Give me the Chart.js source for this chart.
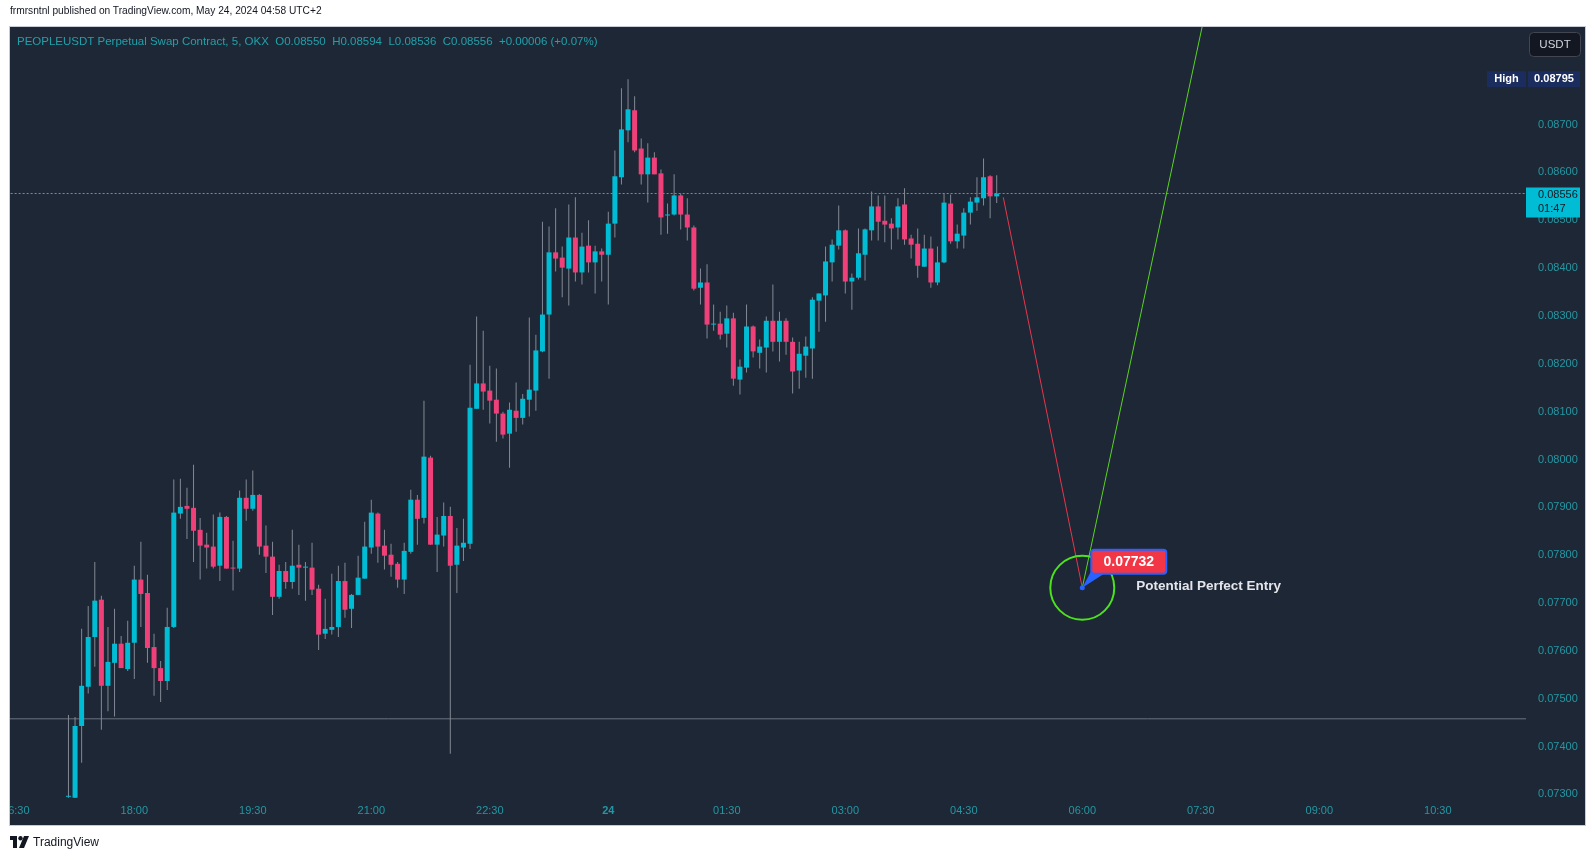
<!DOCTYPE html>
<html>
<head>
<meta charset="utf-8">
<title>PEOPLEUSDT 5m</title>
<script src="https://cdn.jsdelivr.net/npm/chart.js@4.4.1/dist/chart.umd.min.js"></script>
<style>
  html, body { margin: 0; padding: 0; background: #ffffff; }
  #wrap { position: relative; width: 1595px; height: 861px; overflow: hidden; }
  #chart { position: absolute; left: 0; top: 0; }
  .pub { position: absolute; left: 10px; top: 5px; font: 10.2px 'Liberation Sans', sans-serif; color: #131722; }
  .foot { position: absolute; left: 10px; top: 835px; font: 12px 'Liberation Sans', sans-serif; color: #131722; display: flex; align-items: center; gap: 4px; }
</style>
</head>
<body>
<div id="wrap">
  <canvas id="chart" width="1595" height="861"></canvas>
  <div class="pub">frmrsntnl published on TradingView.com, May 24, 2024 04:58 UTC+2</div>
  <div class="foot">
    <svg width="19" height="12" viewBox="0 0 19 12"><rect x="0" y="0" width="7" height="4" fill="#131722"/><rect x="3" y="0" width="4" height="12" fill="#131722"/><circle cx="10.5" cy="2.2" r="2.2" fill="#131722"/><polygon points="14,0 19,0 14,12 9,12" fill="#131722"/></svg>
    <span>TradingView</span>
  </div>
</div>
<script>
// 5 minute candles, first bar 17:10, last bar 04:55 (minutes counted from 18:00)
const opens = [
  0.07295,0.07293,0.07443,0.07525,0.07629,0.07707,0.07527,0.07575,0.07615,0.07562,
  0.07617,0.07749,0.07721,0.07608,0.07564,0.07537,0.07650,0.07887,0.07903,0.07899,
  0.07853,0.07822,0.07818,0.07778,0.07880,0.07774,0.07772,0.07920,0.07897,0.07926,
  0.07820,0.07797,0.07713,0.07767,0.07744,0.07780,0.07774,0.07774,0.07730,0.07636,
  0.07644,0.07650,0.07746,0.07688,0.07717,0.07751,0.07816,0.07887,0.07820,0.07801,
  0.07782,0.07749,0.07807,0.07916,0.07878,0.08004,0.07822,0.07841,0.07882,0.07780,
  0.07816,0.07824,0.08106,0.08159,0.08144,0.08125,0.08096,0.08054,0.08102,0.08087,
  0.08125,0.08144,0.08226,0.08303,0.08433,0.08422,0.08399,0.08464,0.08391,0.08447,
  0.08412,0.08435,0.08428,0.08493,0.08590,0.08688,0.08730,0.08650,0.08596,0.08631,
  0.08598,0.08510,0.08512,0.08552,0.08512,0.08485,0.08359,0.08370,0.08282,0.08284,
  0.08263,0.08295,0.08167,0.08192,0.08278,0.08223,0.08234,0.08290,0.08246,0.08290,
  0.08246,0.08186,0.08217,0.08232,0.08332,0.08343,0.08412,0.08447,0.08479,0.08372,
  0.08380,0.08428,0.08479,0.08529,0.08499,0.08493,0.08485,0.08533,0.08462,0.08451,
  0.08403,0.08441,0.08370,0.08412,0.08535,0.08456,0.08468,0.08516,0.08537,0.08546,
  0.08592,0.08550
];
const highs = [
  0.07466,0.07462,0.07646,0.07694,0.07786,0.07715,0.07650,0.07688,0.07631,0.07663,
  0.07778,0.07828,0.07759,0.07636,0.07579,0.07690,0.07958,0.07960,0.07941,0.07989,
  0.07878,0.07847,0.07885,0.07889,0.07882,0.07830,0.07935,0.07958,0.07977,0.07928,
  0.07862,0.07828,0.07780,0.07786,0.07853,0.07822,0.07786,0.07826,0.07738,0.07709,
  0.07761,0.07778,0.07784,0.07719,0.07799,0.07870,0.07916,0.07889,0.07853,0.07824,
  0.07786,0.07826,0.07937,0.07926,0.08123,0.08008,0.07880,0.07910,0.07901,0.07857,
  0.07876,0.08198,0.08299,0.08269,0.08196,0.08190,0.08100,0.08119,0.08161,0.08137,
  0.08297,0.08261,0.08497,0.08487,0.08525,0.08445,0.08533,0.08548,0.08474,0.08500,
  0.08447,0.08441,0.08518,0.08646,0.08776,0.08795,0.08759,0.08671,0.08661,0.08642,
  0.08606,0.08535,0.08596,0.08556,0.08546,0.08489,0.08399,0.08408,0.08324,0.08309,
  0.08322,0.08307,0.08209,0.08324,0.08280,0.08251,0.08299,0.08366,0.08309,0.08295,
  0.08255,0.08246,0.08257,0.08339,0.08347,0.08445,0.08460,0.08531,0.08481,0.08389,
  0.08483,0.08483,0.08560,0.08552,0.08552,0.08504,0.08546,0.08567,0.08470,0.08483,
  0.08470,0.08466,0.08445,0.08556,0.08554,0.08491,0.08525,0.08548,0.08590,0.08629,
  0.08594,0.08594
];
const lows = [
  0.07293,0.07292,0.07366,0.07511,0.07567,0.07435,0.07474,0.07463,0.07564,0.07558,
  0.07541,0.07650,0.07575,0.07506,0.07493,0.07518,0.07648,0.07876,0.07834,0.07786,
  0.07749,0.07772,0.07772,0.07746,0.07772,0.07726,0.07765,0.07872,0.07893,0.07801,
  0.07763,0.07675,0.07709,0.07730,0.07730,0.07717,0.07705,0.07717,0.07602,0.07625,
  0.07634,0.07629,0.07669,0.07648,0.07717,0.07751,0.07803,0.07784,0.07770,0.07755,
  0.07732,0.07719,0.07803,0.07822,0.07866,0.07822,0.07765,0.07818,0.07385,0.07721,
  0.07788,0.07813,0.08106,0.08104,0.08075,0.08037,0.08044,0.07983,0.08058,0.08073,
  0.08090,0.08102,0.08224,0.08169,0.08393,0.08339,0.08322,0.08372,0.08366,0.08391,
  0.08347,0.08372,0.08324,0.08464,0.08575,0.08663,0.08642,0.08575,0.08537,0.08596,
  0.08470,0.08472,0.08510,0.08481,0.08458,0.08353,0.08324,0.08253,0.08269,0.08251,
  0.08234,0.08154,0.08136,0.08182,0.08213,0.08190,0.08182,0.08226,0.08205,0.08219,
  0.08138,0.08148,0.08171,0.08169,0.08267,0.08288,0.08372,0.08439,0.08347,0.08313,
  0.08376,0.08374,0.08458,0.08458,0.08454,0.08439,0.08460,0.08449,0.08420,0.08380,
  0.08403,0.08359,0.08364,0.08410,0.08451,0.08441,0.08441,0.08491,0.08520,0.08531,
  0.08504,0.08536
];
const closes = [
  0.07296,0.07443,0.07527,0.07629,0.07705,0.07527,0.07577,0.07615,0.07564,0.07617,
  0.07749,0.07719,0.07606,0.07564,0.07537,0.07650,0.07889,0.07901,0.07897,0.07851,
  0.07820,0.07816,0.07776,0.07880,0.07772,0.07772,0.07920,0.07897,0.07926,0.07818,
  0.07797,0.07713,0.07767,0.07744,0.07778,0.07774,0.07776,0.07728,0.07634,0.07646,
  0.07650,0.07746,0.07686,0.07717,0.07753,0.07818,0.07889,0.07818,0.07799,0.07780,
  0.07749,0.07809,0.07916,0.07876,0.08006,0.07822,0.07843,0.07882,0.07778,0.07820,
  0.07826,0.08108,0.08159,0.08142,0.08123,0.08096,0.08052,0.08104,0.08087,0.08127,
  0.08146,0.08228,0.08303,0.08433,0.08420,0.08401,0.08464,0.08391,0.08445,0.08412,
  0.08435,0.08428,0.08493,0.08592,0.08690,0.08732,0.08646,0.08596,0.08631,0.08596,
  0.08506,0.08512,0.08552,0.08512,0.08485,0.08357,0.08370,0.08282,0.08284,0.08261,
  0.08295,0.08169,0.08194,0.08278,0.08226,0.08236,0.08290,0.08246,0.08290,0.08246,
  0.08184,0.08221,0.08236,0.08334,0.08347,0.08414,0.08449,0.08479,0.08372,0.08380,
  0.08431,0.08481,0.08529,0.08497,0.08491,0.08483,0.08529,0.08460,0.08449,0.08405,
  0.08441,0.08370,0.08412,0.08537,0.08456,0.08472,0.08516,0.08539,0.08548,0.08590,
  0.08550,0.08556
];
const firstBarMinute = -50;   // 17:10
const barMinutes = 5;

const xTickValues = [-90, 0, 90, 180, 270, 360, 450, 540, 630, 720, 810, 900, 990];
const xTickLabels = ['16:30','18:00','19:30','21:00','22:30','24','01:30','03:00','04:30','06:00','07:30','09:00','10:30'];
const yTickValues = [0.073,0.074,0.075,0.076,0.077,0.078,0.079,0.080,0.081,0.082,0.083,0.084,0.085,0.086,0.087];

const lastPrice = 0.08556;
const dayHigh = 0.08795;
const levelPrice = 0.07458;
const downPath = [{x: 660, y: 0.08548}, {x: 720, y: 0.07732}];
const upPath = [{x: 720, y: 0.07732}, {x: 811, y: 0.08904}];
const entry = {x: 720, y: 0.07732, label: '0.07732', text: 'Potential Perfect Entry'};
const headerText = 'PEOPLEUSDT Perpetual Swap Contract, 5, OKX  O0.08550  H0.08594  L0.08536  C0.08556  +0.00006 (+0.07%)';

const TEAL = '#00bcd4', RED = '#ef4079', WICK = '#838995', AXIS_TEXT = '#2497a3';

const times = opens.map((_, i) => firstBarMinute + i * barMinutes);
const wickData = times.map((t, i) => ({x: t, y: [lows[i], highs[i]]}));
const bodyData = times.map((t, i) => ({x: t, y: [Math.min(opens[i], closes[i]), Math.max(opens[i], closes[i])]}));
const bodyColors = times.map((_, i) => closes[i] >= opens[i] ? TEAL : RED);

Chart.defaults.font.family = "'Liberation Sans', sans-serif";

const overlay = {
  id: 'overlay',
  beforeDraw(chart) {
    const c = chart.ctx;
    c.save();
    c.fillStyle = '#1e2735';
    c.fillRect(10, 27, 1575, 798);
    c.strokeStyle = '#c9ccd2';
    c.lineWidth = 1;
    c.strokeRect(9.5, 26.5, 1576, 799);
    c.restore();
  },
  afterDraw(chart) {
    const c = chart.ctx;
    const xs = chart.scales.x, ys = chart.scales.y;
    c.save();
    c.beginPath();
    c.rect(10, 27, 1575, 798);
    c.clip();

    // time axis labels
    c.textAlign = 'center';
    c.textBaseline = 'middle';
    c.fillStyle = AXIS_TEXT;
    xTickValues.forEach((v, i) => {
      c.font = (xTickLabels[i] === '24' ? 'bold ' : '') + "11px 'Liberation Sans', sans-serif";
      c.fillText(xTickLabels[i], xs.getPixelForValue(v), 811);
    });

    // legend line
    c.textAlign = 'left';
    c.font = "11.5px 'Liberation Sans', sans-serif";
    c.fillStyle = '#22a0aa';
    c.fillText(headerText, 17, 42);

    // entry callout
    const px = xs.getPixelForValue(entry.x), py = ys.getPixelForValue(entry.y);
    c.fillStyle = '#2962ff';
    c.beginPath();
    c.moveTo(px, py);
    c.lineTo(px + 9, py - 17);
    c.lineTo(px + 21, py - 13.5);
    c.closePath();
    c.fill();
    c.beginPath();
    c.arc(px, py, 2.5, 0, Math.PI * 2);
    c.fill();
    c.beginPath();
    c.roundRect(px + 9, py - 38, 75, 24, 3);
    c.fillStyle = '#f23645';
    c.fill();
    c.lineWidth = 2;
    c.strokeStyle = '#2962ff';
    c.stroke();
    c.fillStyle = '#ffffff';
    c.textAlign = 'center';
    c.font = "bold 14px 'Liberation Sans', sans-serif";
    c.fillText(entry.label, px + 46.5, py - 25.5);
    c.textAlign = 'left';
    c.font = "600 13.5px 'Liberation Sans', sans-serif";
    c.fillStyle = '#e3e6eb';
    c.fillText(entry.text, px + 54, py - 1);

    // price axis: day high
    const hy = ys.getPixelForValue(dayHigh);
    c.fillStyle = '#1a2d5e';
    c.fillRect(1487, hy - 8, 39, 16);
    c.fillRect(1528, hy - 8, 52, 16);
    c.fillStyle = '#ffffff';
    c.font = "bold 11px 'Liberation Sans', sans-serif";
    c.textAlign = 'center';
    c.fillText('High', 1506.5, hy);
    c.fillText(dayHigh.toFixed(5), 1554, hy);

    // price axis: last price tag with countdown
    const ly = ys.getPixelForValue(lastPrice);
    c.fillStyle = TEAL;
    c.fillRect(1526, ly - 6, 54, 30);
    c.fillStyle = '#131722';
    c.font = "11px 'Liberation Sans', sans-serif";
    c.textAlign = 'left';
    c.fillText(lastPrice.toFixed(5), 1538, ly + 1.5);
    c.fillText('01:47', 1538, ly + 15.5);

    // currency button
    c.beginPath();
    c.roundRect(1529.5, 32.5, 51, 24, 4);
    c.fillStyle = '#131722';
    c.fill();
    c.lineWidth = 1;
    c.strokeStyle = '#434651';
    c.stroke();
    c.fillStyle = '#d1d4dc';
    c.textAlign = 'center';
    c.font = "11.5px 'Liberation Sans', sans-serif";
    c.fillText('USDT', 1555, 45);
    c.restore();
  }
};

new Chart(document.getElementById('chart'), {
  type: 'bar',
  data: {
    datasets: [
      {
        type: 'line', order: 6,
        data: [{x: -100, y: lastPrice}, {x: 1060, y: lastPrice}],
        borderColor: TEAL, borderWidth: 1, borderDash: [2, 2], pointRadius: 0
      },
      {
        type: 'line', order: 6,
        data: [{x: -100, y: levelPrice}, {x: 1060, y: levelPrice}],
        borderColor: '#6d7280', borderWidth: 1, pointRadius: 0
      },
      {
        order: 5, grouped: false, data: wickData,
        backgroundColor: WICK, barThickness: 1, inflateAmount: 0, borderWidth: 0
      },
      {
        order: 4, grouped: false, data: bodyData,
        backgroundColor: bodyColors, barThickness: 5, minBarLength: 1, inflateAmount: 0, borderWidth: 0
      },
      {
        type: 'line', order: 3, data: downPath,
        borderColor: '#e8364c', borderWidth: 1, pointRadius: 0
      },
      {
        type: 'line', order: 2, data: upPath,
        borderColor: '#5ad41d', borderWidth: 1, pointRadius: 0
      },
      {
        type: 'line', order: 1, data: [{x: entry.x, y: entry.y}], showLine: false,
        pointRadius: 32, pointBorderWidth: 2, pointBorderColor: '#4be41c', pointBackgroundColor: 'rgba(0,0,0,0)'
      }
    ]
  },
  options: {
    responsive: false,
    devicePixelRatio: 1,
    animation: false,
    events: [],
    layout: { autoPadding: false, padding: { top: 27, left: 10, right: 10, bottom: 63 } },
    plugins: { legend: { display: false }, tooltip: { enabled: false } },
    scales: {
      x: {
        type: 'linear', display: false, offset: false,
        min: -94.4, max: 1057
      },
      y: {
        type: 'linear', position: 'right',
        min: 0.072925, max: 0.08904,
        grid: { display: false, drawTicks: false },
        border: { display: false },
        afterBuildTicks: s => { s.ticks = yTickValues.map(v => ({value: v})); },
        afterFit: s => { s.width = 59; },
        ticks: {
          padding: 12, color: AXIS_TEXT, font: { size: 11 },
          callback: v => Number(v).toFixed(5)
        }
      }
    }
  },
  plugins: [overlay]
});
</script>
</body>
</html>
